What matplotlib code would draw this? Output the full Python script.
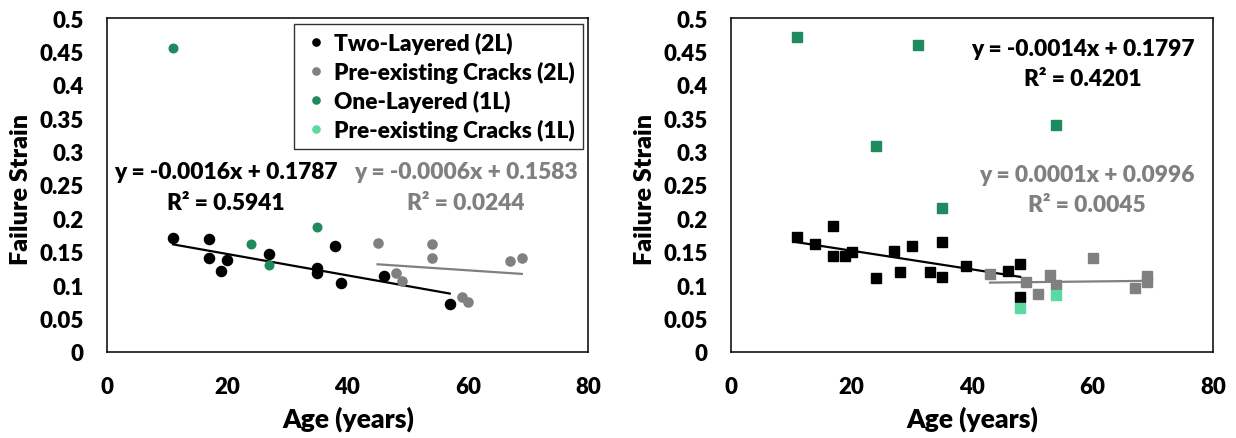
import matplotlib
matplotlib.use("Agg")
import matplotlib.pyplot as plt
from matplotlib.lines import Line2D
import numpy as np

plt.rcParams['font.family'] = ['Lato', 'DejaVu Sans']
plt.rcParams['font.weight'] = 'bold'

# ---- Left panel (circles) ----
L_two_x = [11, 17, 17, 20, 19, 27, 35, 35, 38, 39, 46, 57]
L_two_y = [0.170, 0.169, 0.140, 0.137, 0.121, 0.146, 0.126, 0.118, 0.159, 0.103, 0.114, 0.072]
L_pre2_x = [45, 48, 49, 54, 54, 59, 60, 67, 69]
L_pre2_y = [0.163, 0.119, 0.107, 0.162, 0.140, 0.082, 0.075, 0.136, 0.141]
L_one_x = [11, 24, 27, 35]
L_one_y = [0.455, 0.161, 0.130, 0.187]

# ---- Right panel (squares) ----
R_two_x = [11, 14, 17, 17, 19, 20, 24, 27, 28, 30, 33, 35, 35, 39, 46, 48, 48]
R_two_y = [0.172, 0.161, 0.188, 0.143, 0.143, 0.149, 0.111, 0.151, 0.120, 0.158, 0.120, 0.164, 0.113, 0.129, 0.121, 0.131, 0.083]
R_pre2_x = [43, 49, 51, 53, 54, 60, 67, 69, 69]
R_pre2_y = [0.117, 0.105, 0.087, 0.115, 0.101, 0.141, 0.096, 0.114, 0.105]
R_one_x = [11, 31, 24, 54, 35]
R_one_y = [0.472, 0.460, 0.309, 0.340, 0.216]
R_pre1_x = [48, 54]
R_pre1_y = [0.066, 0.085]

# trend lines: (slope, intercept, x range)
L_fit_two = (-0.0016, 0.1787, [11, 57])
L_fit_pre2 = (-0.0006, 0.1583, [45, 69])
R_fit_two = (-0.0014, 0.1797, [11, 48])
R_fit_pre2 = (0.0001, 0.0996, [43, 69])

L_eq_two = ['y = -0.0016x + 0.1787', 'R² = 0.5941']
L_eq_pre2 = ['y = -0.0006x + 0.1583', 'R² = 0.0244']
R_eq_two = ['y = -0.0014x + 0.1797', 'R² = 0.4201']
R_eq_pre2 = ['y = 0.0001x + 0.0996', 'R² = 0.0045']

labels = ['Two-Layered (2L)', 'Pre-existing Cracks (2L)', 'One-Layered (1L)', 'Pre-existing Cracks (1L)']
c_black = '#000000'
c_grey = '#808080'
c_green = '#1E8A5E'
c_light = '#5BD9A0'

x_ticks = [0, 20, 40, 60, 80]
y_ticks = [0, 0.05, 0.1, 0.15, 0.2, 0.25, 0.3, 0.35, 0.4, 0.45, 0.5]
y_tick_labels = ['0', '0.05', '0.1', '0.15', '0.2', '0.25', '0.3', '0.35', '0.4', '0.45', '0.5']

W, H = 1236, 439
fig = plt.figure(figsize=(W / 100, H / 100), dpi=100)
renderer = fig.canvas.get_renderer()

WEIGHT = 'heavy'


def fit_size(s, target_px, base=15):
    t = fig.text(0, 0, s, fontsize=base, fontweight=WEIGHT)
    w = t.get_window_extent(renderer).width
    t.remove()
    return base * target_px / w


fs_tick = fit_size('0.35', 44)
fs_eq = fit_size('y = -0.0016x + 0.1787', 223)
fs_leg = fit_size('Pre-existing Cracks (2L)', 243)
fs_xlab = fit_size('Age (years)', 133)
fs_ylab = fit_size('Failure Strain', 152)

axL = fig.add_axes([107 / W, 1 - 353 / H, 481 / W, 334 / H])
axR = fig.add_axes([731 / W, 1 - 353 / H, 482 / W, 334 / H])


def style(ax, xpix):
    ax.set_xlim(0, 80)
    ax.set_ylim(0, 0.5)
    ax.set_xticks(x_ticks)
    ax.set_xticklabels([str(t) for t in x_ticks], fontsize=fs_tick, fontweight=WEIGHT)
    ax.set_yticks(y_ticks)
    ax.set_yticklabels(y_tick_labels, fontsize=fs_tick, fontweight=WEIGHT)
    ax.tick_params(length=0)
    ax.tick_params(axis='x', pad=17)
    ax.tick_params(axis='y', pad=17)
    for sp in ax.spines.values():
        sp.set_color('#000000')
        sp.set_linewidth(1.1)
    fig.text(xpix / W, 1 - 428 / H, 'Age (years)', ha='center', va='baseline',
             fontsize=fs_xlab, fontweight=WEIGHT)


def ylabel(xpix):
    fig.text(xpix / W, 1 - 189 / H, 'Failure Strain', rotation=90, rotation_mode='anchor',
             ha='center', va='baseline', fontsize=fs_ylab, fontweight=WEIGHT)


def fitline(ax, fit, color):
    m, b, xr = fit
    xs = np.array(xr, dtype=float)
    ax.plot(xs, m * xs + b, color=color, lw=1.6, zorder=2)


def eq(ax, xc, y1, y2, lines, color):
    x0, x1 = ax.get_position().x0 * W, ax.get_position().x1 * W
    fx = (xc - x0) / (x1 - x0)
    ax.text(fx, 1 - (y1 - 19) / 334, lines[0], transform=ax.transAxes, ha='center', va='center',
            fontsize=fs_eq, fontweight=WEIGHT, color=color)
    ax.text(fx, 1 - (y2 - 19) / 334, lines[1], transform=ax.transAxes, ha='center', va='center',
            fontsize=fs_eq, fontweight=WEIGHT, color=color)


# Left
axL.plot(L_two_x, L_two_y, 'o', color=c_black, ms=7.3, ls='none', zorder=3)
axL.plot(L_pre2_x, L_pre2_y, 'o', color=c_grey, ms=6.6, ls='none', zorder=3)
axL.plot(L_one_x, L_one_y, 'o', color=c_green, ms=6.2, ls='none', zorder=3)
fitline(axL, L_fit_two, c_black)
fitline(axL, L_fit_pre2, c_grey)
style(axL, 348)
ylabel(28)

handles = [Line2D([], [], ls='none', marker='o', color=c, ms=5.2)
           for c in (c_black, c_grey, c_green, c_light)]
leg = axL.legend(handles, labels, loc='upper right',
                 bbox_to_anchor=((583 - 107) / 481, 1 - (25 - 19) / 334),
                 frameon=True, fancybox=False, edgecolor='black', fontsize=fs_leg,
                 handletextpad=0.15, borderpad=0.35, labelspacing=0.3,
                 handlelength=1.3, borderaxespad=0)
leg.get_frame().set_linewidth(1.0)
for t in leg.get_texts():
    t.set_fontweight(WEIGHT)

eq(axL, 226, 173, 204, L_eq_two, c_black)
eq(axL, 466, 173, 204, L_eq_pre2, c_grey)

# Right
ms_sq = 7.0
axR.plot(R_two_x, R_two_y, 's', color=c_black, ms=ms_sq, ls='none', zorder=3)
axR.plot(R_pre2_x, R_pre2_y, 's', color=c_grey, ms=ms_sq, ls='none', zorder=3)
axR.plot(R_one_x, R_one_y, 's', color=c_green, ms=ms_sq, ls='none', zorder=3)
axR.plot(R_pre1_x, R_pre1_y, 's', color=c_light, ms=ms_sq, ls='none', zorder=3)
fitline(axR, R_fit_two, c_black)
fitline(axR, R_fit_pre2, c_grey)
style(axR, 972)
ylabel(652)

eq(axR, 1083, 49, 80, R_eq_two, c_black)
eq(axR, 1087, 176, 206, R_eq_pre2, c_grey)

fig.savefig('out.png', dpi=100)
